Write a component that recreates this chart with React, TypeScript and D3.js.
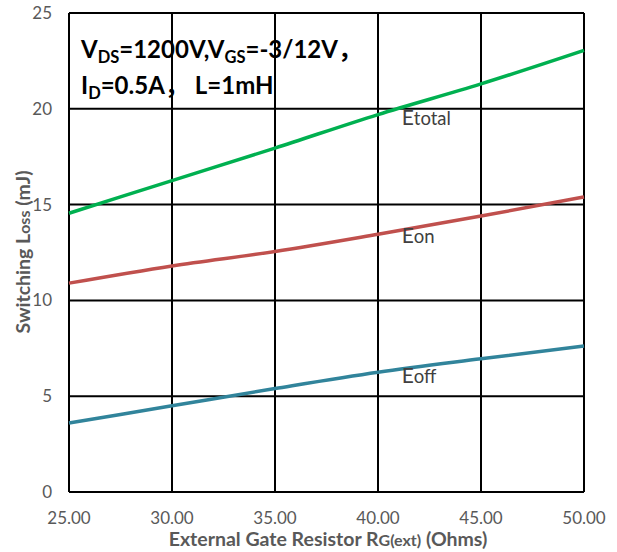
import React from "react";
import * as d3 from "d3";

const resistances = [25, 30, 35, 40, 45, 50];
const eTotal = [14.55, 16.25, 17.95, 19.7, 21.3, 23.05];
const eOn = [10.9, 11.8, 12.55, 13.45, 14.4, 15.4];
const eOff = [3.6, 4.5, 5.4, 6.25, 6.95, 7.62];
const xTicks = [25, 30, 35, 40, 45, 50];
const yTicks = [0, 5, 10, 15, 20, 25];

const series = [
  { name: "Etotal", values: eTotal, color: "#00B050", labelAt: 41.15, labelY: 19.15 },
  { name: "Eon", values: eOn, color: "#C0504D", labelAt: 41.15, labelY: 13.0 },
  { name: "Eoff", values: eOff, color: "#31849B", labelAt: 41.15, labelY: 5.69 },
];

export default function App() {
  const W = 617, H = 552;
  const left = 69, right = 584, top = 13, bottom = 492;
  const x = d3.scaleLinear().domain([25, 50]).range([left, right]);
  const y = d3.scaleLinear().domain([0, 25]).range([bottom, top]);
  const font = "Lato, 'Open Sans', sans-serif";
  const cjk = "'Noto Sans CJK SC', sans-serif";
  const line = d3.line<number>().x((_, i) => x(resistances[i])).y((d) => y(d)).curve(d3.curveMonotoneX);

  return (
    <svg width={W} height={H} style={{ position: "absolute", left: 0, top: 0 }} fontFamily={font}>
      <rect x={0} y={0} width={W} height={H} fill="#fff" />
      {xTicks.map((t) => (
        <line key={"gx" + t} x1={x(t)} x2={x(t)} y1={top} y2={bottom} stroke="#000" strokeWidth={2} />
      ))}
      {yTicks.map((t) => (
        <line key={"gy" + t} x1={left} x2={right} y1={y(t)} y2={y(t)} stroke="#000" strokeWidth={2} />
      ))}
      {series.map((s) => (
        <path key={s.name} d={line(s.values) || ""} fill="none" stroke={s.color} strokeWidth={3.5} />
      ))}
      {series.map((s) => (
        <text key={"l" + s.name} x={x(s.labelAt)} y={y(s.labelY)} fontSize={18.5} fill="#404040">
          <tspan fontSize={21}>{s.name[0]}</tspan>
          {s.name.slice(1)}
        </text>
      ))}
      {yTicks.map((t) => (
        <text key={"ty" + t} x={52} y={y(t) + 6} textAnchor="end" fontSize={17} fill="#595959">
          {t}
        </text>
      ))}
      {xTicks.map((t) => (
        <text key={"tx" + t} x={x(t)} y={524} textAnchor="middle" fontSize={17} fill="#595959">
          {t.toFixed(2)}
        </text>
      ))}
      <text x={328} y={546} textAnchor="middle" fontSize={19.5} fontWeight="bold" fill="#595959">
        External Gate Resistor R<tspan fontSize={16}>G(ext)</tspan> (Ohms)
      </text>
      <text transform={`translate(30,252) rotate(-90)`} textAnchor="middle" fontSize={19.5} fontWeight="bold" fill="#595959">
        Switching L<tspan fontSize={16}>oss</tspan> (mJ)
      </text>
      <text x={81} y={58} fontSize={24} fontWeight="bold" fill="#000">
        V<tspan fontSize={16.5} dy={5}>DS</tspan>
        <tspan dy={-5}>=1200V,V</tspan>
        <tspan fontSize={16.5} dy={5}>GS</tspan>
        <tspan dy={-5}>=-3/12V</tspan>
        <tspan fontFamily={cjk}>，</tspan>
      </text>
      <text x={81} y={94} fontSize={24} fontWeight="bold" fill="#000">
        I<tspan fontSize={16.5} dy={5}>D</tspan>
        <tspan dy={-5}>=0.5A</tspan>
        <tspan fontFamily={cjk}>，</tspan>
        <tspan dx={6}>L=1mH</tspan>
      </text>
    </svg>
  );
}
